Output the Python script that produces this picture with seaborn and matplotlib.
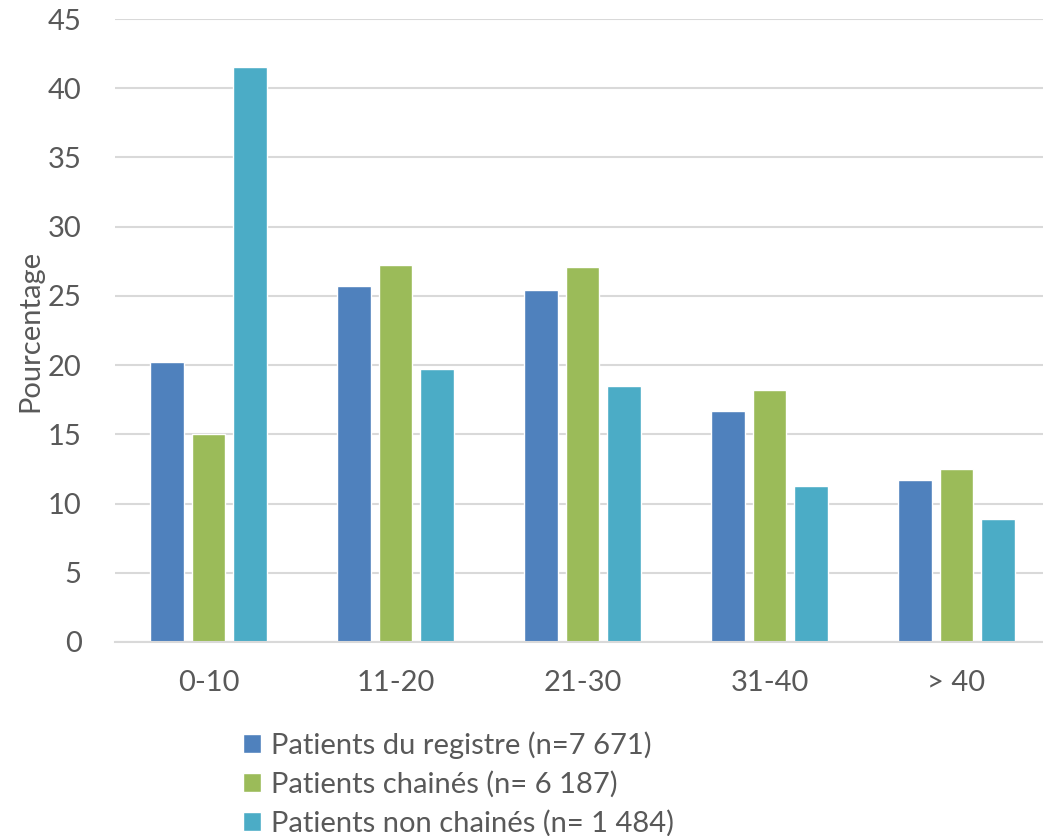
import matplotlib
matplotlib.use("Agg")
import matplotlib.pyplot as plt
import seaborn as sns
import pandas as pd

# Age groups and percentage of patients per group
categories = ["0-10", "11-20", "21-30", "31-40", "> 40"]
registre = [20.2, 25.7, 25.4, 16.7, 11.7]
chaines = [15.0, 27.2, 27.1, 18.2, 12.5]
non_chaines = [41.5, 19.7, 18.5, 11.3, 8.9]
series_names = [
    "Patients du registre (n=7 671)",
    "Patients chainés (n= 6 187)",
    "Patients non chainés (n= 1 484)",
]
colors = ["#4F81BD", "#9BBB59", "#4BACC6"]

rows = []
for name, vals in zip(series_names, [registre, chaines, non_chaines]):
    for cat, v in zip(categories, vals):
        rows.append({"Tranche": cat, "Pourcentage": v, "Groupe": name})
df = pd.DataFrame(rows)

sns.set_theme(style="white")
plt.rcParams["font.family"] = ["Lato", "DejaVu Sans"]
text_color = "#595959"
fs = 21

W, H = 1043, 836
fig = plt.figure(figsize=(W / 100, H / 100), dpi=100)
left, right, top, bottom = 115, 1050, 19, 642
ax = fig.add_axes([left / W, (H - bottom) / H, (right - left) / W, (bottom - top) / H])

sns.barplot(
    data=df, x="Tranche", y="Pourcentage", hue="Groupe",
    order=categories, hue_order=series_names, palette=colors,
    width=0.665, gap=0.2, saturation=1, ax=ax,
)

ax.set_ylim(0, 45)
ax.set_xlim(-0.5, 4.5)
ax.set_yticks(range(0, 46, 5))
ax.yaxis.grid(True, color="#D9D9D9", linewidth=1.5)
ax.set_axisbelow(True)
for s in ["left", "right", "top"]:
    ax.spines[s].set_visible(False)
ax.spines["bottom"].set_color("#D9D9D9")
ax.spines["bottom"].set_linewidth(1.5)

ax.tick_params(axis="y", length=0, pad=24, labelsize=fs, labelcolor=text_color)
ax.tick_params(axis="x", length=0, pad=20, labelsize=fs, labelcolor=text_color)
ax.set_xlabel("")
ax.set_ylabel("Pourcentage", fontsize=fs, color=text_color)
ax.yaxis.set_label_coords(-0.077, 0.5)

handles, labels = ax.get_legend_handles_labels()
ax.legend_.remove()
fig.legend(
    handles, labels, loc="upper left",
    bbox_to_anchor=(243 / W, 1 - 731 / H),
    frameon=False, fontsize=fs, labelcolor=text_color,
    handlelength=0.6, handleheight=0.6, handletextpad=0.35,
    labelspacing=0.42, borderaxespad=0, borderpad=0,
)

fig.savefig("out.png", dpi=100)
